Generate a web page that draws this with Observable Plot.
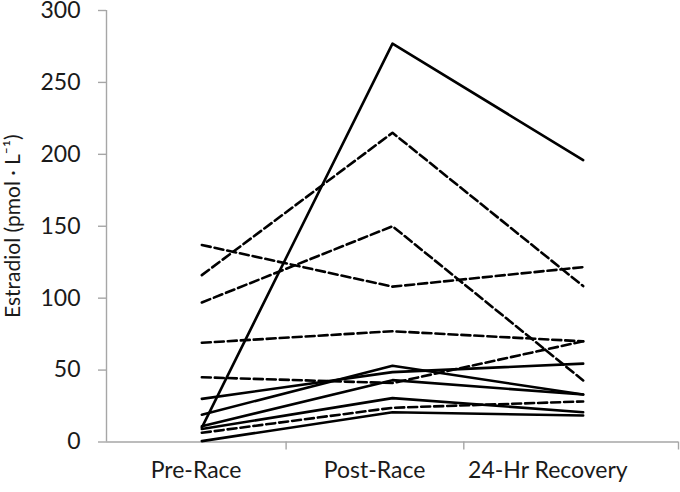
<!DOCTYPE html>
<html>
<head>
<meta charset="utf-8">
<script src="https://cdn.jsdelivr.net/npm/d3@7"></script>
<script src="https://cdn.jsdelivr.net/npm/@observablehq/plot@0.6"></script>
<style>
  html, body { margin: 0; padding: 0; background: #fff; }
  #chart svg { display: block; }
</style>
</head>
<body>
<div id="chart"></div>
<script>
// ---- data ----
const categories = ["Pre-Race", "Post-Race", "24-Hr Recovery"];
const preRace  = [10, 30, 19, 11, 9, 0.6, 137, 116, 97, 69, 45, 6.4];
const postRace = [277, 48.6, 53, 43, 30.5, 20.7, 108, 215, 150, 77, 41, 23.8];
const recovery = [196, 54.5, 33, 33, 20.7, 18.4, 121.6, 108.4, 42.8, 70, 70, 28.2];
const isDashed = [false, false, false, false, false, false, true, true, true, true, true, true];
const yTicks = [0, 50, 100, 150, 200, 250, 300];
const yTitle = "Estradiol (pmol \u00B7 L\u207B\u00B9)";

// ---- build table ----
const byTime = [preRace, postRace, recovery];
const rows = [];
preRace.forEach((_, s) => {
  categories.forEach((c, j) => {
    rows.push({subject: s, time: j, value: byTime[j][s], dashed: isDashed[s]});
  });
});

// axis decoration positions (category units) matching the reference layout
const labelPos = [-0.03, 0.906, 1.815];
const boundaryPos = [0.442, 1.374, 2.5];

const font = "Lato, 'Open Sans', sans-serif";
const axisColor = "#a6a6a6";

const chart = Plot.plot({
  width: 680,
  height: 492,
  marginLeft: 106,
  marginRight: 2,
  marginTop: 10,
  marginBottom: 50.5,
  style: {fontFamily: font, color: "#1a1a1a", background: "#fff"},
  x: {type: "linear", domain: [-0.5, 2.5]},
  y: {domain: [0, 300]},
  marks: [
    Plot.ruleX([-0.5], {stroke: axisColor, strokeWidth: 1.4}),
    Plot.ruleY([0], {stroke: axisColor, strokeWidth: 1.4}),
    Plot.axisY({ticks: yTicks, tickSize: 8, tickPadding: 18, fontSize: 23, stroke: axisColor, strokeWidth: 1.4, label: null, fill: "#1a1a1a"}),
    Plot.axisX({ticks: boundaryPos, tickSize: 8, tickFormat: () => "", stroke: axisColor, strokeWidth: 1.4, label: null}),
    Plot.axisX({ticks: labelPos, tickSize: 0, tickPadding: 19.5, fontSize: 23, tickFormat: (d, i) => categories[i], label: null, fill: "#1a1a1a"}),
    Plot.text([yTitle], {frameAnchor: "left", textAnchor: "middle", lineAnchor: "middle", rotate: -90, dx: -93, fontSize: 21, fill: "#1a1a1a"}),
    Plot.line(rows.filter(d => !d.dashed), {x: "time", y: "value", z: "subject", stroke: "#000", strokeWidth: 2.6}),
    Plot.line(rows.filter(d => d.dashed), {x: "time", y: "value", z: "subject", stroke: "#000", strokeWidth: 2.6, strokeDasharray: "9,4"})
  ]
});
document.getElementById("chart").appendChild(chart);
</script>
</body>
</html>
